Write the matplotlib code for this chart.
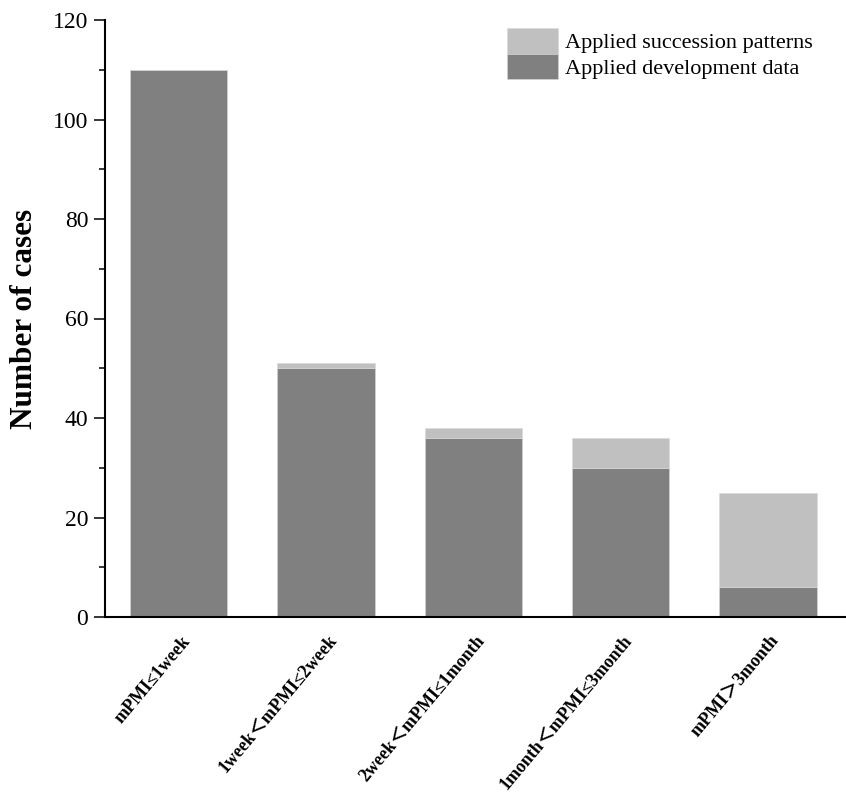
import matplotlib
matplotlib.use("Agg")
import matplotlib.pyplot as plt
from matplotlib.ticker import MultipleLocator
from matplotlib.transforms import ScaledTranslation

plt.rcParams['font.family'] = ['Liberation Serif', 'Noto Sans CJK SC', 'DejaVu Sans']

categories = ["mPMI≤1week", "1week＜mPMI≤2week", "2week＜mPMI≤1month",
              "1month＜mPMI≤3month", "mPMI＞3month"]
development = [110, 50, 36, 30, 6]
succession = [0, 1, 2, 6, 19]

dark = "#808080"
light = "#c0c0c0"

fig = plt.figure(figsize=(8.46, 7.97), dpi=100)
ax = fig.add_axes([105 / 846, 180 / 797, 1 - 105 / 846, (617 - 20) / 797])

x = list(range(len(categories)))
ax.bar(x, development, width=0.66, color=dark, edgecolor="#d8d8d8", linewidth=0.4,
       label="Applied development data", zorder=2)
ax.bar(x, succession, width=0.66, bottom=development, color=light, edgecolor="#d8d8d8",
       linewidth=0.4, label="Applied succession patterns", zorder=2)

ax.set_xlim(-0.5, 4.53)
ax.set_ylim(0, 120)
ax.yaxis.set_major_locator(MultipleLocator(20))
ax.yaxis.set_minor_locator(MultipleLocator(10))

for side in ("top", "right"):
    ax.spines[side].set_visible(False)
for side in ("left", "bottom"):
    ax.spines[side].set_linewidth(1.5)

ax.tick_params(axis="y", which="major", length=8, width=1.1, labelsize=17,
               direction="out", pad=4)
ax.tick_params(axis="y", which="minor", length=4.3, width=1.1, direction="out")
ax.tick_params(axis="x", length=0, pad=0)

ax.set_xticks(x)
ax.set_xticklabels(categories, rotation=50, ha="right", va="center",
                   rotation_mode="anchor", fontsize=13, fontweight="bold")
offset = ScaledTranslation(9 / 100, -21 / 100, fig.dpi_scale_trans)
for lbl in ax.get_xticklabels():
    lbl.set_transform(lbl.get_transform() + offset)

ax.set_ylabel("Number of cases", fontsize=22.5, fontweight="bold", labelpad=10)

handles, labels = ax.get_legend_handles_labels()
ax.legend(handles[::-1], labels[::-1], loc="upper left",
          bbox_to_anchor=(507 / 846, 1 - 28 / 797), bbox_transform=fig.transFigure,
          frameon=False, fontsize=16, handlelength=2.3, handleheight=1.4,
          labelspacing=0.0, handletextpad=0.3, borderpad=0, borderaxespad=0)

fig.savefig("out.png", dpi=100)
